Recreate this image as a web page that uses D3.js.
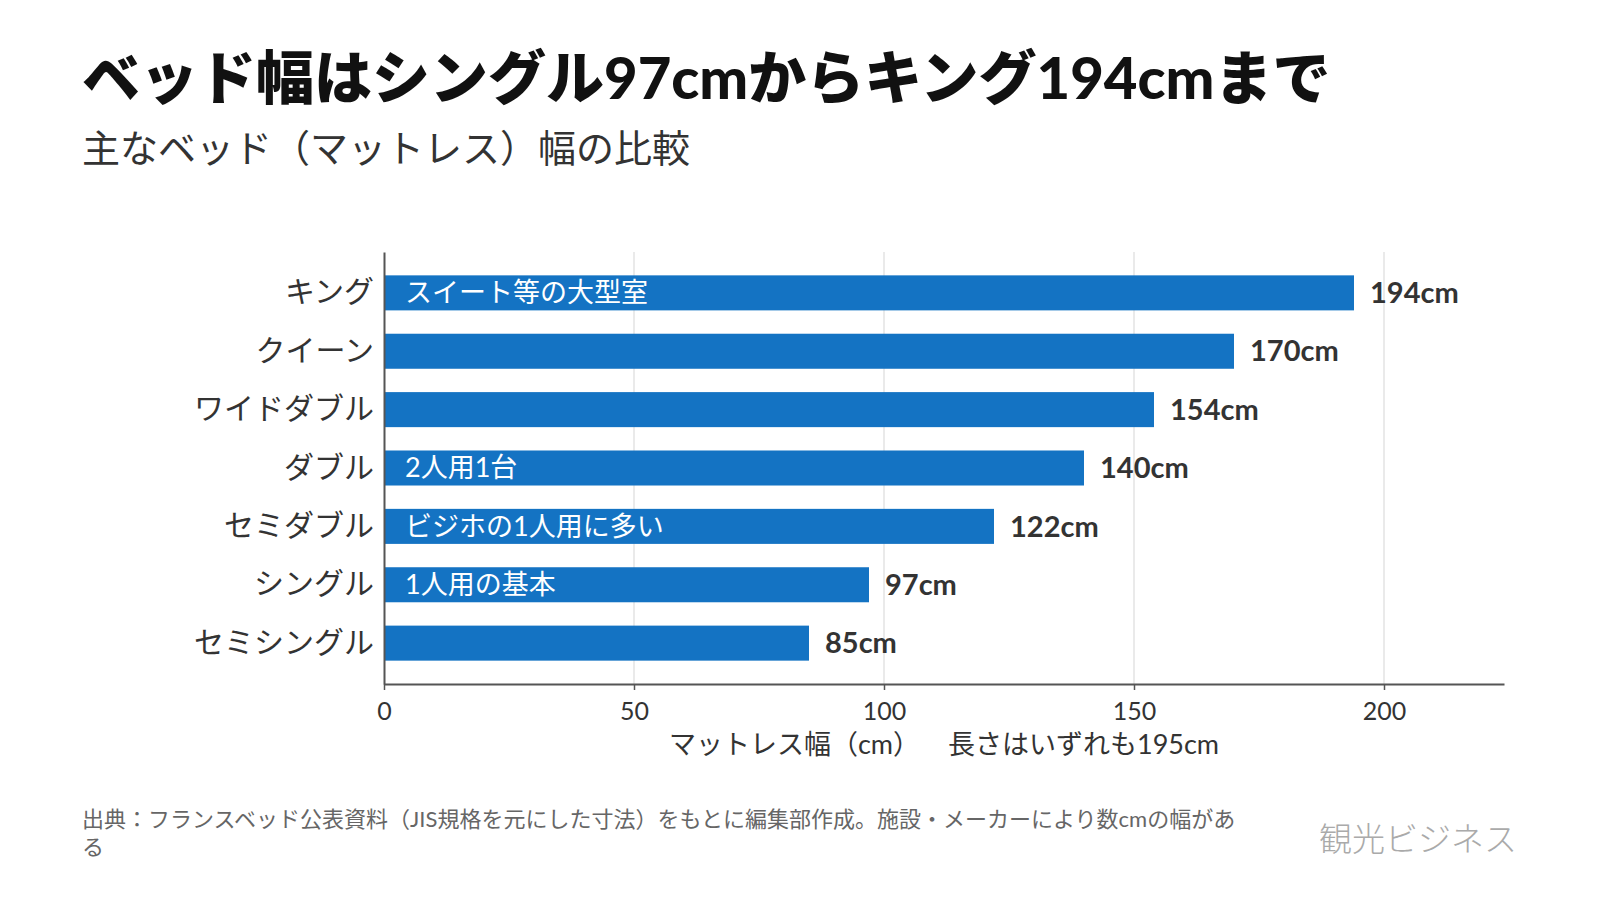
<!DOCTYPE html>
<html>
<head>
<meta charset="utf-8">
<script src="https://cdn.jsdelivr.net/npm/d3@7"></script>
<style>
  body { margin: 0; background: #fff; }
  svg { display: block; font-family: "Lato", "Noto Sans CJK JP", sans-serif; }
</style>
</head>
<body>
<div id="chart"></div>
<script>
const categories = ['キング', 'クイーン', 'ワイドダブル', 'ダブル', 'セミダブル', 'シングル', 'セミシングル'];
const widths = [194, 170, 154, 140, 122, 97, 85];
const notes = ['スイート等の大型室', '', '', '2人用1台', 'ビジホの1人用に多い', '1人用の基本', ''];
const xTicks = [0, 50, 100, 150, 200];

const title = 'ベッド幅はシングル97cmからキング194cmまで';
const subtitle = '主なベッド（マットレス）幅の比較';
const axisTitle = ['マットレス幅（cm）', '長さはいずれも195cm'];
const source = '出典：フランスベッド公表資料（JIS規格を元にした寸法）をもとに編集部作成。施設・メーカーにより数cmの幅がある';
const brand = '観光ビジネス';

const W = 1600, H = 900;
const MARGIN = { TOP: 252, LEFT: 384, RIGHT: 96, BOTTOM: 216 };
const PW = W - MARGIN.LEFT - MARGIN.RIGHT;
const PH = H - MARGIN.TOP - MARGIN.BOTTOM;

const data = categories.map((c, i) => ({ name: c, value: widths[i], note: notes[i] }));

const svg = d3.select('#chart').append('svg')
  .attr('width', W)
  .attr('height', H);

svg.append('text')
  .attr('x', 82).attr('y', 99)
  .attr('font-size', 58).attr('font-weight', 900)
  .attr('fill', '#111')
  .text(title);

svg.append('text')
  .attr('x', 82).attr('y', 162)
  .attr('font-size', 38)
  .attr('fill', '#333')
  .text(subtitle);

const g = svg.append('g')
  .attr('transform', `translate(${MARGIN.LEFT}, ${MARGIN.TOP})`);

const x = d3.scaleLinear().domain([0, 224]).range([0, PW]);
const y = d3.scaleBand().domain(categories).range([0, PH]).padding(0.4);

// grid
g.selectAll('line.grid')
  .data(xTicks.filter(d => d > 0))
  .enter().append('line')
    .attr('class', 'grid')
    .attr('x1', d => x(d)).attr('x2', d => x(d))
    .attr('y1', 0).attr('y2', PH)
    .attr('stroke', '#e3e3e3').attr('stroke-width', 1.5);

// bars
g.selectAll('rect')
  .data(data)
  .enter().append('rect')
    .attr('x', 0)
    .attr('y', d => y(d.name))
    .attr('width', d => x(d.value))
    .attr('height', y.bandwidth())
    .attr('fill', '#1473c3');

// notes inside bars
g.selectAll('text.note')
  .data(data.filter(d => d.note))
  .enter().append('text')
    .attr('class', 'note')
    .attr('x', 21)
    .attr('y', d => y(d.name) + y.bandwidth() / 2)
    .attr('dy', '0.35em')
    .attr('font-size', 27)
    .attr('fill', '#fff')
    .text(d => d.note);

// value labels
g.selectAll('text.value')
  .data(data)
  .enter().append('text')
    .attr('class', 'value')
    .attr('x', d => x(d.value) + 16)
    .attr('y', d => y(d.name) + y.bandwidth() / 2)
    .attr('dy', '0.35em')
    .attr('font-size', 29)
    .attr('font-weight', 700)
    .attr('fill', '#333')
    .text(d => d.value + 'cm');

// y axis
const yAxis = g.append('g')
  .call(d3.axisLeft(y).tickSize(0).tickPadding(10));
yAxis.select('.domain').attr('stroke', '#555').attr('stroke-width', 2);
yAxis.selectAll('text')
  .attr('font-size', 30)
  .attr('fill', '#333')
  .attr('font-family', '"Noto Sans CJK JP", sans-serif');

// x axis
const xAxis = g.append('g')
  .attr('transform', `translate(0, ${PH})`)
  .call(d3.axisBottom(x).tickValues(xTicks).tickSize(6).tickSizeOuter(0).tickPadding(12));
xAxis.select('.domain').attr('stroke', '#555').attr('stroke-width', 2);
xAxis.selectAll('.tick line').attr('stroke', '#555').attr('stroke-width', 1.5);
xAxis.selectAll('text')
  .attr('font-size', 25)
  .attr('fill', '#333')
  .attr('font-family', '"Lato", "Noto Sans CJK JP", sans-serif');

const at = g.append('text')
  .attr('x', PW / 2)
  .attr('y', PH + 70)
  .attr('text-anchor', 'middle')
  .attr('font-size', 27)
  .attr('fill', '#333');
at.append('tspan').text(axisTitle[0]);
at.append('tspan').attr('dx', 28).text(axisTitle[1]);

// source, wrapped
const src = svg.append('text')
  .attr('x', 82).attr('y', 827)
  .attr('font-size', 22)
  .attr('fill', '#666');
const maxW = 1162;
let line = '', lines = [];
const probe = src.append('tspan');
for (const ch of source) {
  probe.text(line + ch);
  if (probe.node().getComputedTextLength() > maxW && line) {
    lines.push(line);
    line = ch;
  } else {
    line += ch;
  }
}
lines.push(line);
probe.remove();
src.selectAll('tspan')
  .data(lines)
  .enter().append('tspan')
    .attr('x', 82)
    .attr('dy', (d, i) => i === 0 ? 0 : 28)
    .text(d => d);

svg.append('text')
  .attr('x', 1319).attr('y', 851)
  .attr('font-size', 33)
  .attr('font-weight', 300)
  .attr('fill', '#aaa')
  .attr('font-family', '"Noto Sans CJK JP", sans-serif')
  .text(brand);
</script>
</body>
</html>
